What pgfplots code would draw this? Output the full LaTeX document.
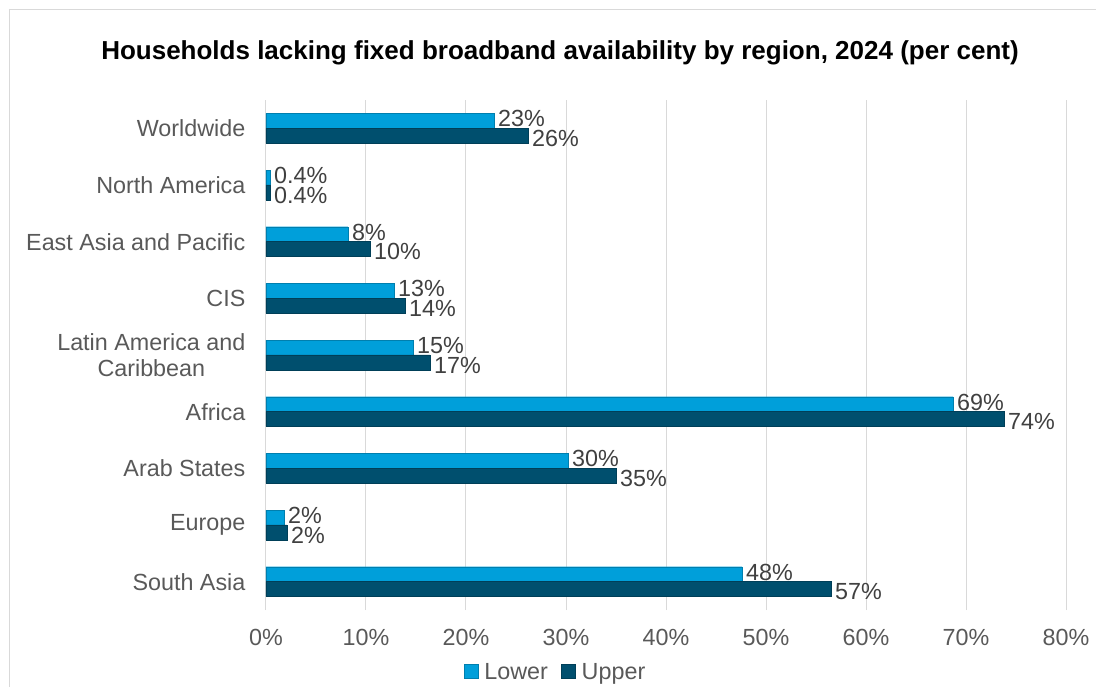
\documentclass[border=0pt]{standalone}
\usepackage{pgfplots}
\pgfplotsset{compat=1.18}
\usepackage{fontspec}
\setmainfont{Liberation Sans}
\definecolor{lowc}{HTML}{009FDA}
\definecolor{upc}{HTML}{004F6E}
\definecolor{gridc}{HTML}{D9D9D9}
\definecolor{tickc}{HTML}{595959}
\definecolor{labc}{HTML}{404040}
\begin{document}
\begin{tikzpicture}
\useasboundingbox (-199.5pt,-57pt) rectangle (622.5pt,457.5pt);
\draw[gridc] (-192.75pt,450.75pt) -- (630pt,450.75pt);
\draw[gridc] (-192.75pt,450.75pt) -- (-192.75pt,-70pt);
\node[font=\fontsize{19.5}{22}\selectfont\bfseries] at (220.5pt,417.5pt) {Households lacking fixed broadband availability by region, 2024 (per cent)};
\begin{axis}[
    at={(0,0)}, anchor=south west,
    scale only axis,
    width=600pt, height=382.5pt,
    xbar, bar width=11.25pt,
    xmin=0, xmax=80,
    ymin=-0.5, ymax=8.5,
    xtick={0,10,...,80},
    xticklabel={\pgfmathprintnumber{\tick}\%},
    ytick={0,...,8},
    yticklabels={South Asia,Europe,Arab States,Africa,{Latin America and\\Caribbean},CIS,East Asia and Pacific,North America,Worldwide},
    xmajorgrids, grid style={gridc, line width=0.75pt},
    axis line style={draw=none},
    tick style={draw=none},
    tick label style={font=\fontsize{17.5}{20}\selectfont, text=tickc},
    yticklabel style={align=center, inner sep=0pt, xshift=-11pt},
    xticklabel style={inner sep=0pt, yshift=-14pt},
    /pgf/number format/assume math mode=true,
    point meta=explicit symbolic,
    nodes near coords,
    nodes near coords style={font=\fontsize{17.5}{20}\selectfont, text=labc, anchor=west, inner xsep=3pt, inner ysep=0pt},
    legend style={at={(0.3625,-0.1216)}, anchor=center, draw=none, legend columns=2,
        font=\fontsize{17.5}{20}\selectfont, text=tickc,
        /tikz/every even column/.append style={column sep=8pt}},
    legend image code/.code={\fill[#1] (0pt,-5pt) rectangle (10.5pt,5.5pt); \path (13pt,0pt);},
]
\addplot[fill=lowc, draw=lowc!80!black, line width=0.3pt, bar shift=5.6pt,
    nodes near coords style={yshift=1.5pt}] coordinates {
(47.6,0) [48\%]
(1.8,1) [2\%]
(30.2,2) [30\%]
(68.7,3) [69\%]
(14.7,4) [15\%]
(12.8,5) [13\%]
(8.2,6) [8\%]
(0.4,7) [0.4\%]
(22.8,8) [23\%]
};
\addplot[fill=upc, draw=upc!80!black, line width=0.3pt, bar shift=-5.6pt,
    nodes near coords style={yshift=-2pt}] coordinates {
(56.5,0) [57\%]
(2.1,1) [2\%]
(35.0,2) [35\%]
(73.8,3) [74\%]
(16.4,4) [17\%]
(13.9,5) [14\%]
(10.4,6) [10\%]
(0.4,7) [0.4\%]
(26.2,8) [26\%]
};
\legend{Lower,Upper}
\end{axis}
\end{tikzpicture}
\end{document}
